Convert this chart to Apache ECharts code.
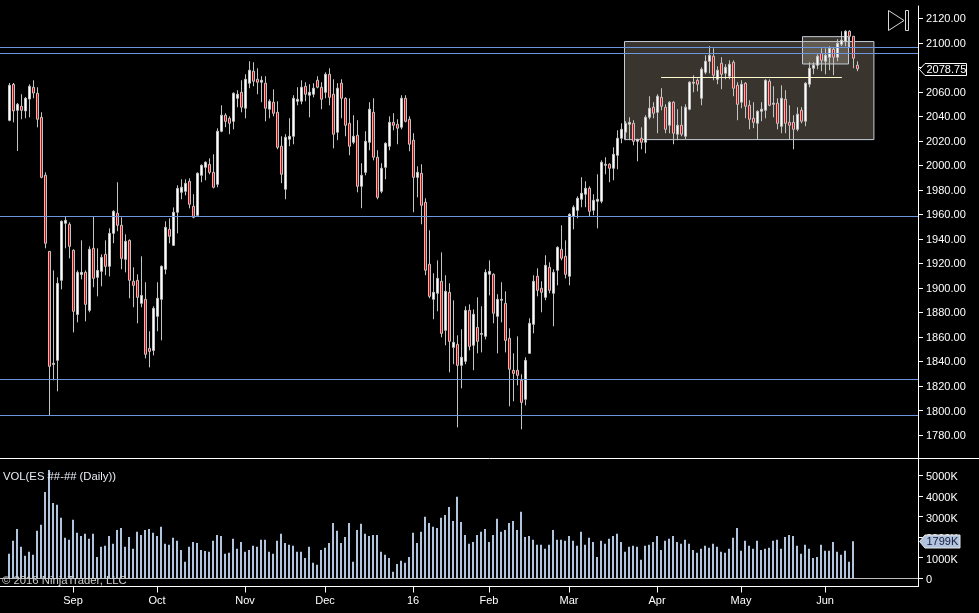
<!DOCTYPE html>
<html><head><meta charset="utf-8">
<style>html,body{margin:0;padding:0;background:#000}#c{width:979px;height:613px}</style>
<script src="https://cdn.jsdelivr.net/npm/echarts@6/dist/echarts.min.js"></script>
</head><body><div id="c"></div>
<script>
const opens = [
2036.7,2066.1,2044.9,2048.2,2044.4,2054.1,2063.7,2058.8,2039.2,1991.9,
1929.8,1837.6,1840.9,1906.2,1952.7,1951.9,1930.7,1878.4,1911,1912.7,
1881.7,1932.3,1908.6,1913.5,1927.4,1917.6,1944.5,1960.9,1951.1,1923.3,
1938.8,1905.4,1906.2,1887.4,1890.7,1850.7,1849,1876.8,1890.7,1915.2,
1947.8,1934.7,1961.7,1978,1978.8,1987,1966.6,1959.2,1991.9,1998.4,
2000.8,1994.3,1984.5,
2027.8,2040.9,2038.4,2035.9,2054.7,2059.6,2046.6,2067,2076.8,2070.2,
2067.8,2067,2045.8,2051.5,2043.3,2015.6,1980.5,2021.3,2023.7,2052.3,
2052.3,2064.5,2057.2,2058,2069.4,2063.7,2059.6,2074.3,2058,2027,
2067,2054.7,2034.3,2018.8,2024.5,1982.9,1994.3,2018.8,2043.3,2006.6,
1978.8,1998.4,2015.6,2035.1,2033.5,2031.1,2054.7,2037.6,2020.5,1990.2,1993.5,
1969.8,1919.3,1890.7,1895.6,1905.4,1865.4,1896.4,1851.5,1854,1836.8,
1840.1,1881.7,1853.2,1867.8,1862.1,1860.5,1911.1,1911.1,1876.8,1889.9,
1887.4,1858.9,1832.8,1832.8,1824.6,1809.1,1846.6,1870.3,1909.5,1899.7,
1892.3,1916.8,1895.6,1914.4,1931.5,1925.8,1909.5,1958.4,1963.3,
1972.3,1976.4,1981.3,1963.3,1970.7,1970.7,2000,2000.9,1997.6,
2008.2,2022.1,2027,2033.5,2034.3,2019.6,2022.1,2018.8,2039.2,2047.4,
2043.3,2055.5,2047.4,2032.7,2051.5,2025.4,2032.7,2023.7,2045.8,2067,
2069.4,2054.7,2075.9,2084.9,2089,2070.2,2083.3,2075.1,2072.7,2084.1,
2065.3,2051.5,2067,2049,2038.4,2034.3,2044.1,2044.9,2068.6,2049.8,
2050.7,2031.9,2053.9,2035.1,2035.1,2029.4,2044.9,2036,2066.2,2079.2,
2081.7,2091.4,2084.9,2088.2,2094.7,2088.2,2098.8,2101.2,2109.4,2105.3,2081.7];
const closes = [
2065.3,2044.4,2049.8,2044.9,2054.7,2064.5,2059,2037.6,1990.2,1936.4,
1836,1838.5,1903.7,1954.3,1955.1,1933.9,1880.9,1912.7,1912.7,1886.6,
1931.5,1907.8,1914.3,1924.9,1917.6,1944.5,1962.5,1951.1,1924.1,1938,
1906.2,1902.1,1892.3,1893.9,1845.8,1848.2,1883.3,1891.5,1917.6,1949.4,
1942.1,1961.7,1981.2,1982.1,1985.3,1968.2,1957.6,1993.5,2000,2002.5,
1994.3,1982.1,2027.8,
2040.9,2035.9,2034.3,2058.8,2058,2047.4,2070.2,2077.6,2068.6,2067.8,
2069.4,2046.6,2052.3,2042.5,2014.7,1992.7,2022.9,2023.7,2054.7,2053.9,
2063.7,2058,2059.6,2062.9,2063.7,2053.9,2074.3,2055.5,2025.4,2062.9,
2054.7,2032.7,2015.6,2023.7,1982.9,1991.9,2019.6,2045.8,2006.6,1973.9,
1997.6,2018,2035.1,2032.7,2030.3,2054.7,2035.9,2017.2,1990.2,1994.3,1967.4,
1914.4,1893.1,1896.4,1907.8,1862.9,1897.2,1856.4,1855.6,1836.8,1843.4,
1881.7,1852.3,1878.5,1856.4,1862.9,1912.7,1913.5,1879.3,1890.7,1890.7,
1857.2,1833.6,1830.3,1828.7,1806.6,1840.9,1871.1,1905.4,1898,1896.4,
1918.4,1898,1912.7,1933.1,1924.2,1911.1,1960,1965.8,1973.1,
1977.2,1981.3,1962.5,1971.5,1972.3,2002.5,2000.9,1997.6,2009,
2022.1,2029.4,2034.3,2035.1,2019.6,2021.3,2018.8,2039.2,2046.6,2042.5,
2056.4,2048.2,2029.4,2051.5,2026.2,2032.7,2025.4,2047.4,2067.8,2067.8,
2066.2,2078.4,2084.9,2089.8,2073.5,2077.6,2074.3,2080,2082.5,2062.9,
2049.8,2066.2,2048.2,2037.6,2035.1,2044.1,2045.8,2069.4,2049,2050.7,
2034.3,2054.7,2034.3,2032.7,2029.4,2041.7,2036,2067,2079.2,2081.7,
2089,2085.7,2089.8,2095.5,2088.2,2099.6,2102.1,2109.4,2105.3,2087.4,2078.75];
const lows = [
2035.9,2035.1,2011.7,2037.6,2038.4,2039.2,2054.7,2031,1989.4,1932.3,
1795.7,1824.6,1815.6,1898.8,1932.3,1924.1,1863.7,1871.9,1907,1872.7,
1880.1,1900.5,1893.1,1901.3,1910.3,1909.4,1936.4,1946.2,1915.2,1912.7,
1891.5,1884.2,1871.1,1884.2,1842.5,1835.2,1844.9,1864.6,1857.2,1911.1,
1936.4,1934.7,1944.5,1972.3,1975.5,1964.9,1956.8,1959.2,1986.2,1987.8,
1992.7,1981.2,1982.1,
2027,2031.1,2025.4,2029.4,2047.4,2043.3,2038.4,2062.9,2064.5,2058,
2051.5,2035.9,2038.4,2040,2013.1,1985.4,1972.3,2015.6,2017.2,2049,
2049.8,2052.3,2039.2,2055.5,2062.9,2045.8,2054.7,2049,2013.9,2020.5,
2038.4,2023.7,2008.2,2017.2,1978,1965,1991.9,2012.3,2004.1,1972.3,
1977.2,1988.6,2012.3,2028.6,2017.2,2029.4,2035.1,2011.5,1961.7,1973.9,1951.9,
1910.3,1891.5,1874.4,1880.9,1859.7,1853.2,1831.1,1837.7,1786.2,1818.1,
1837.7,1849.1,1832.8,1846.6,1847.4,1858,1893.9,1871.1,1846.6,1871.9,
1847.4,1803.4,1807.5,1820.5,1784.6,1804.2,1846.6,1862.9,1893.1,1880.1,
1889.9,1895.6,1868.7,1902.1,1922.5,1907.8,1902.1,1947.8,1956.8,
1965.8,1965.8,1958.4,1959.3,1948.6,1969,1992.7,1986.2,1987.8,
1996.8,2018,2020.5,2020.5,2016.4,2003.3,2013.1,2009.8,2037.6,2038.4,
2026.2,2044.9,2026.2,2026.2,2017.2,2020.5,2023.7,2021.3,2044.9,2059.6,
2060.4,2049,2074.3,2075.1,2069.4,2066.2,2062.1,2070.2,2070.2,2056.4,
2036.8,2046.6,2038.4,2029.4,2030.3,2021,2036,2038.4,2048.2,2039.2,
2029.4,2026.2,2026.2,2021,2013.1,2027.8,2034.3,2031.9,2063.7,2074.3,
2078.4,2076.8,2074.3,2077.6,2073.5,2084.9,2097.2,2097.2,2096.3,2079.2,2076.8];
const highs = [
2067.2,2067.2,2050.9,2058,2055.8,2066.1,2069.4,2063.7,2043.3,1994.3,
1929.8,1914.3,1908.6,1955.1,1958.4,1953.5,1931.5,1914.3,1938.8,1914.3,
1933.9,1957.9,1932.3,1927.4,1938.8,1948.6,1963.3,1986.2,1957.6,1943.7,
1939.6,1916.8,1911.1,1925.8,1904.6,1864.6,1885,1904.6,1918.4,1954.3,
1956.8,1965.7,1983.7,1988.6,1988.6,1989.4,1976.4,1994.3,2000.8,2003.3,
2005.7,2009,2030.2,
2049,2042.5,2040,2059.6,2061.3,2069.4,2074.3,2084.9,2084.1,2079.2,
2072.7,2072.7,2053.9,2062,2052.3,2023.7,2025.4,2038.4,2057.2,2063.7,
2069.4,2067.8,2066.2,2067,2072.7,2067.8,2075.9,2079.2,2070.2,2067,
2070.2,2055.5,2054.7,2040.9,2036.8,2001.7,2027.8,2051.5,2054.7,2012.3,
2001.7,2018.8,2040,2042.5,2037.6,2057.2,2057.2,2040,2026.2,1999.2,2000.9,
1973.1,1947,1911.9,1922.5,1929,1910.3,1903.8,1889.9,1861.3,1866.2,
1885,1886.6,1882.5,1892.3,1885,1915.2,1922.5,1911.9,1894.8,1904.6,
1897.2,1867,1846.6,1860.5,1829.5,1843.4,1875.2,1910.3,1916,1905.4,
1926.6,1920.9,1915.2,1933.9,1951.1,1938.8,1960.9,1967.4,1974.7,
1990.3,1987,1982.9,1976.4,1992.7,2004.1,2006.6,2001.7,2014.7,
2028.6,2034.3,2036,2039.2,2036.8,2021.3,2031,2040.9,2056.4,2051.5,
2058,2062.9,2049.8,2052.3,2052.3,2045.8,2048.2,2049.8,2068.6,2073.5,
2071,2080,2089.8,2097.2,2095.5,2080.8,2088.2,2082.5,2085.7,2085.7,
2067.8,2069.4,2067.8,2053.1,2051.5,2044.9,2051.5,2070.2,2070.2,2064.5,
2054.7,2065.3,2061.3,2049,2040.9,2047.4,2047.4,2067.8,2084.1,2084.1,
2090.6,2095.5,2095.5,2097.2,2096.3,2102.9,2109.4,2110.2,2110.2,2105.3,2084.9];
const volumes = [
1190,1820,2400,1530,1090,1290,1140,2310,2600,4200,
5270,3660,3570,2940,1970,1870,2840,2210,2060,2160,
1920,2160,1040,1530,1580,2060,1680,2350,2450,1530,
2010,1430,2260,2110,2350,2400,2210,2060,2500,1680,
1630,1970,1820,1380,800,1530,1770,1720,1380,1330,
1290,1820,2110,2060,1190,1240,1920,1430,1770,1290,
1380,1580,1530,1870,1870,1290,1190,1820,2160,1720,
1630,1580,1290,
1290,990,1530,750,660,1380,1480,1720,2690,2310,
1720,2010,2690,800,2350,2650,2160,2060,2110,2110,
1290,1140,990,320,700,850,750,1040,2210,1720,
2260,2990,2690,2500,2450,2940,3080,3470,2790,3960,
2740,2110,1680,1770,2110,2260,2400,1770,2110,2890,
2260,2350,2690,2790,2350,3230,2010,2060,1870,1630,
1630,1430,1630,2350,1870,1870,1820,2060,1820,1580,
2260,1630,1970,1770,1040,
1820,1680,1920,2060,2160,1770,1290,1530,1580,1530,
900,1580,1630,1770,2060,1380,1820,1920,2060,1770,
1680,1870,1680,1380,1240,1430,1580,1480,1680,1530,
1290,1240,1430,1970,2450,1340,1820,1580,1430,1820,
1380,1430,1480,1820,1870,1430,2010,2110,2060,1580,
1190,1630,1430,990,1040,1630,1340,1340,1770,1290,
1140,1340,800,1799];

const monthLabels = ['Sep','Oct','Nov','Dec','16','Feb','Mar','Apr','May','Jun'];
const monthBars = [16,37,59,79,101,120,140,162,183,204];
const priceTicks = [1780,1800,1820,1840,1860,1880,1900,1920,1940,1960,1980,2000,2020,2040,2060,2080,2100,2120];
const volumeTicks = [0,1000,2000,3000,4000,5000];
const priceLevels = [2096,2091.2,1958.2,1825.1,1795.7];
const segment = {from:162.9,to:208.1,price:2071.6};
const bigBox = {from:153.75,to:216.1,top:2101,bottom:2021};
const smallBox = {from:198.25,to:209.75,top:2105,bottom:2082.7};
const lastPrice = 2078.75;
const lastVolume = 1799;

const FONT = '"Liberation Sans", Arial, sans-serif';
const candles = opens.map((o,i)=>[i,o,closes[i],lows[i],highs[i]]);
const volBars = volumes.map((v,i)=>[i,v]);

function tag(fill,stroke,textColor,boxLeft,boxRight,halfH,label){
  return function(params,api){
    const y = Math.round(api.coord([api.value(0),api.value(1)])[1])+0.5;
    const ax = params.coordSys.x+params.coordSys.width;
    const t = y-halfH, b = y+halfH;
    return {type:'group',children:[
      {type:'polygon',shape:{points:[[ax+1.5,y],[ax+boxLeft,t],[ax+boxRight,t],[ax+boxRight,b],[ax+boxLeft,b]]},
       style:{fill:fill,stroke:stroke,lineWidth:1}},
      {type:'text',x:ax+boxLeft+1.5,y:y+0.5,style:{text:label,fill:textColor,font:'11px '+FONT,textAlign:'left',textVerticalAlign:'middle'}}
    ]};
  };
}

const chart = echarts.init(document.getElementById('c'),null,{renderer:'canvas'});
chart.setOption({
  animation:false,
  backgroundColor:'#000',
  textStyle:{fontFamily:FONT},
  grid:[
    {left:0,width:918,top:6,height:453.5},
    {left:0,width:918,top:459,height:127.5}
  ],
  xAxis:[
    {type:'value',gridIndex:0,min:-2.375,max:227.125,
     axisLine:{show:false,onZero:false},axisTick:{show:false},axisLabel:{show:false},splitLine:{show:false}},
    {type:'value',gridIndex:1,min:-2.25,max:227.25,
     axisLine:{show:true,onZero:false,lineStyle:{color:'#fff',width:1}},
     axisTick:{show:true,length:6,lineStyle:{color:'#fff'},customValues:monthBars},
     axisLabel:{show:true,color:'#fff',fontSize:11,fontFamily:FONT,margin:9,customValues:monthBars,
       formatter:v=>monthLabels[monthBars.indexOf(v)]},
     splitLine:{show:false}}
  ],
  yAxis:[
    {type:'value',gridIndex:0,position:'right',min:1760,max:2130,
     axisLine:{show:true,onZero:false,lineStyle:{color:'#fff',width:1}},
     axisTick:{show:true,length:5,lineStyle:{color:'#fff'},customValues:priceTicks},
     axisLabel:{show:true,color:'#fff',fontSize:11,fontFamily:FONT,margin:8,customValues:priceTicks,
       formatter:v=>'{p|'+v.toFixed(2)+'}',
       rich:{p:{color:'#fff',fontSize:11,fontFamily:FONT,padding:[2,0,0,0]}}},
     splitLine:{show:false}},
    {type:'value',gridIndex:1,position:'right',min:-400,max:5800,
     axisLine:{show:true,onZero:false,lineStyle:{color:'#fff',width:1}},
     axisTick:{show:true,length:5,lineStyle:{color:'#fff'},customValues:volumeTicks},
     axisLabel:{show:true,color:'#fff',fontSize:11,fontFamily:FONT,margin:8,customValues:volumeTicks,
       formatter:v=>'{p|'+(v===0?'0':v+'K')+'}',
       rich:{p:{color:'#fff',fontSize:11,fontFamily:FONT,padding:[4,0,0,0]}}},
     splitLine:{show:false}}
  ],
  series:[
    {type:'candlestick',name:'ES',xAxisIndex:0,yAxisIndex:0,data:candles,barWidth:2,z:3,silent:true,
     itemStyle:{color:'#ffffff',color0:'#e00000',borderColor:'#c4c4c4',borderColor0:'#c4c4c4',borderWidth:1},
     markArea:{silent:true,z:1,data:[
       [{coord:[bigBox.from,bigBox.top],itemStyle:{color:'#3a342e',borderColor:'#c4cdd8',borderWidth:1,opacity:1}},
        {coord:[bigBox.to,bigBox.bottom]}],
       [{coord:[smallBox.from,smallBox.top],itemStyle:{color:'rgba(190,180,160,0.3)',borderColor:'#c4cdd8',borderWidth:1,opacity:1}},
        {coord:[smallBox.to,smallBox.bottom]}]
     ]},
     markLine:{silent:true,symbol:'none',z:4,animation:false,label:{show:false},
       lineStyle:{color:'#6c96e0',type:'solid',width:1},
       data:priceLevels.map(p=>({yAxis:p})).concat([[
         {coord:[segment.from,segment.price],lineStyle:{color:'#fffacd',type:'solid',width:1}},
         {coord:[segment.to,segment.price]}
       ]])}
    },
    {type:'bar',name:'VOL',xAxisIndex:1,yAxisIndex:1,data:volBars,barWidth:2,silent:true,
     itemStyle:{color:'#b0c4de'},
     markLine:{silent:true,symbol:'none',label:{show:false},lineStyle:{color:'#bdbdbd',type:'solid',width:1},data:[{yAxis:0}]}
    },
    {type:'custom',xAxisIndex:0,yAxisIndex:0,silent:true,clip:false,z:10,data:[[opens.length-1,lastPrice]],
     renderItem:tag('#000','#fff','#fff',7,48.5,6,lastPrice.toFixed(2))},
    {type:'custom',xAxisIndex:1,yAxisIndex:1,silent:true,clip:false,z:10,data:[[volumes.length-1,lastVolume]],
     renderItem:tag('#b0c4de','#e8e8e8','#1a1a40',7,42,6.5,lastVolume+'K')}
  ],
  graphic:[
    {type:'line',z:20,shape:{x1:0,y1:458.5,x2:979,y2:458.5},style:{stroke:'#fff',lineWidth:1}},
    {type:'polygon',z:20,shape:{points:[[888.5,10.5],[888.5,30.5],[904,20.5]]},style:{fill:'none',stroke:'#d8d8d8',lineWidth:1}},
    {type:'rect',z:20,shape:{x:905.5,y:10.5,width:3,height:20},style:{fill:'none',stroke:'#d8d8d8',lineWidth:1}},
    {type:'text',z:20,x:3,y:477,style:{text:'VOL(ES ##-## (Daily))',fill:'#e8eef5',font:'11.3px '+FONT,textVerticalAlign:'middle'}},
    {type:'text',z:20,x:2,y:581,style:{text:'© 2016 NinjaTrader, LLC',fill:'#cfcfcf',font:'11.3px '+FONT,textVerticalAlign:'middle'}}
  ]
});
</script></body></html>
